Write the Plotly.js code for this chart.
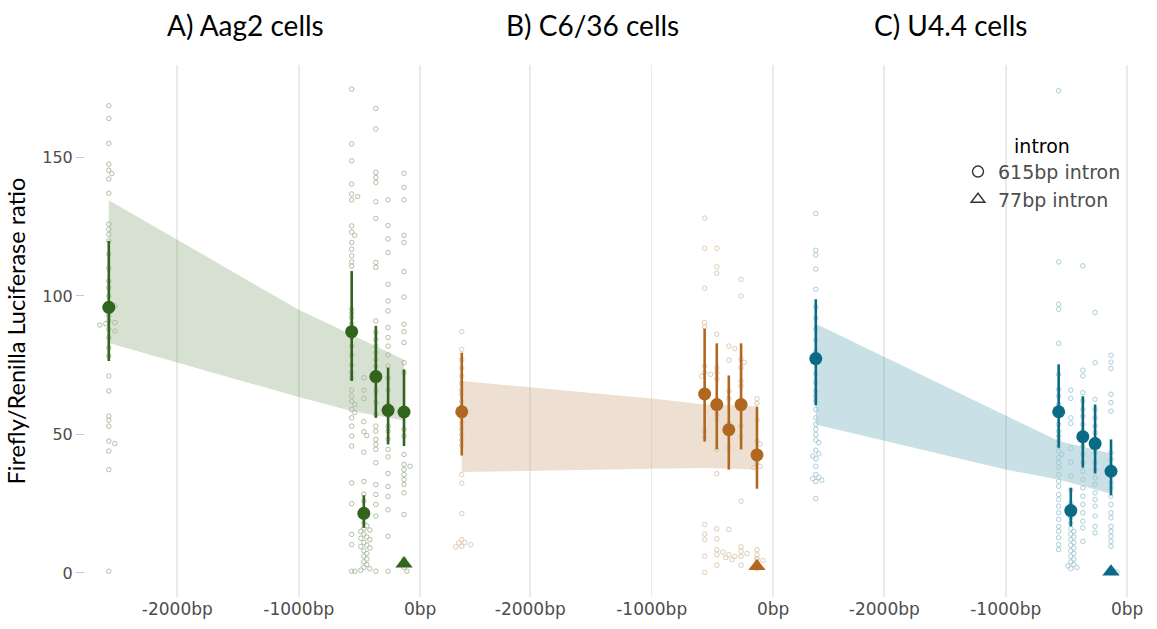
<!DOCTYPE html>
<html>
<head>
<meta charset="utf-8">
<script src="https://cdn.plot.ly/plotly-3.0.1.min.js"></script>
<style>body{margin:0;padding:0;background:#fff;}#chart{width:1157px;height:629px;}</style>
</head>
<body>
<div id="chart"></div>
<script>
// ---------- data ----------
const panelTitles = ['A) Aag2 cells', 'B) C6/36 cells', 'C) U4.4 cells'];
const xTickVals = [-2000, -1000, 0];
const xTickText = ['-2000bp', '-1000bp', '0bp'];
const yTickVals = [0, 50, 100, 150];

// construct positions (bp upstream)
const positions = [-2564, -564, -464, -365, -264, -133];
const pos77 = -133;

// mean estimates and 95% CI (615bp intron)
const meanA = [95.9, 87.1, 21.5, 70.9, 58.7, 58.1];
const upA   = [119.9, 109.0, 28.0, 89.2, 74.1, 73.5];
const loA   = [76.5, 69.3, 16.3, 56.0, 46.4, 45.8];
const meanB = [58.2, 64.6, 60.8, 51.7, 60.8, 42.6];
const upB   = [79.5, 88.2, 82.9, 71.3, 82.9, 60.0];
const loB   = [42.4, 47.4, 44.6, 37.3, 44.6, 30.4];
const meanC = [77.4, 58.2, 22.5, 49.2, 46.7, 36.7];
const upC   = [98.8, 75.3, 30.7, 63.8, 60.8, 48.2];
const loC   = [60.5, 45.2, 16.8, 38.0, 35.9, 28.0];

// 77bp intron means
const tri77 = [3.3, 2.4, 0.4];

// regression ribbons
const ribbonX = [-2564, -1000, -564, -133];
const ribUpA = [134.6, 95.0, 86.0, 77.0];
const ribLoA = [83.0, 63.5, 58.5, 55.0];
const ribUpB = [69.3, 63.0, 60.8, 60.2];
const ribLoB = [36.4, 37.6, 37.9, 37.3];
const ribUpC = [90.0, 56.9, 47.6, 43.1];
const ribLoC = [53.6, 37.3, 33.7, 28.6];

// raw observations per construct (615bp intron)
const rawA = [
  [168.7,164.1,155.1,147.6,145.4,144.2,142.2,137.1,125.9,124.1,122.2,119.9,115.1,110,105.4,103,100,97.2,96.4,95.8,92.8,91,90.4,90,89.5,88,87.3,85,81.3,78.3,71.1,65.7,56.6,55.1,53,47.6,46.7,44,37.3,0.6],
  [174.7,154.9,148.8,140.4,136.8,135.9,134.7,125.3,123.1,121.9,119.3,116.9,114.5,112.3,110.8,95.2,93.7,92.2,90,86.8,85,81.9,78.6,75,72.3,70.5,66,63.9,62,60.8,59,57.9,56,53,49.4,45.8,32.5,25,13.9,10.2,0.6],
  [70.5,66,63,54.6,51,49.6,43.6,33,28.5,26,22,18,17,16,15.5,15,14,13,12.5,12,11,10,9.5,9,8,7,6,5,4,3,2,1.5,1,0.6],
  [167.7,160.3,144.6,142.8,141,134,128,112.1,110.3,91,86.8,84.3,81.9,79.5,77.1,74.7,65.7,61.5,57.2,53,51.2,48.2,46.4,44.6,39.8,31.9,28.3,24.7,20.5,0.6],
  [134.7,125.4,120.6,115.7,104.2,98.2,94.6,88.6,85,81.9,78.7,74.7,70.3,66,60.8,57,53,51.2,48.3,44.6,41.9,35.9,31.2,27.6,22.8,13.2,0.6],
  [144.3,139.2,134.7,121.9,119.3,108.8,99.6,89.8,87.1,83.2,75.9,72.3,51.8,49.4,42.8,39.2,38.5,37.3,35.5,33.7,31.9,28.9,21.1]
];
const rawB = [
  [87.1,80.7,77,74,71.1,68.4,66,64.5,62,60,58,56,54,52,50,48,46,35.5,32.4,21.4,12,10.8,10.2,9.6,9.4,11],
  [128.1,117.2,102.8,90.4,88.9,74.7,72.3,71.7,71,51.2,48.8,17.5,14,12,6,0.2],
  [117.2,110.5,108.2,86.2,74.1,72.3,70.1,57.2,55.5,44.6,35.8,15.9,12.3,8.4,7.5,6.6,2.8],
  [81.9,81,76.8,65.7,63,54.2,52,45.2,15.7,6.6,6,4.8,5.5],
  [106,100,77.1,76,74.1,69.3,67.5,53,49.2,25.9,9.4,7.8,7,6,2.8],
  [62.9,61.2,55.2,47.6,46.5,39.8,38.5,38,8.4,6.6,5.1,4.5]
];
const rawC = [
  [129.8,116.5,114.8,109.7,102.4,96,92,88,84,80,76,72,68.7,65.7,64,62,59,56,53.6,51.8,50,48,47,44.3,43,42.2,41.2,38.5,35.5,34.5,33.5,33,34,26.8],
  [174.1,112.3,97,95.2,82.9,71.7,66.3,63.9,60.8,57.8,53.6,51.2,49.4,47.6,45.8,44,42.8,41.6,39.8,38,35.5,33.1,31.3,28.3,26.5,24.1,21.7,19.3,16.8,15,12.7,10.2,8.4],
  [66,63,56,54,45,40,35,30,25,20,18,16,15,14,13,12,11,10,9,8,7,6,5,4,3,2.5,2,1.5],
  [110.9,73.2,71.1,65.1,62.1,59,56.6,53.6,51.2,48.2,45.8,42.8,39.8,36.7,33.7,30.7,27.7,24.7,21.7,18.7,16.3,11.4],
  [94,75.9,62.7,59,56,53,50.6,48.2,45.8,43.4,39.8,37.3,34.3,31.9,28.9,26.5,24.1,20.5,16.8,14.5],
  [78.6,76.1,73.8,64.5,61.5,58.4,43.4,41,38.5,35.5,32.5,30.7,27.7,24.7,21.7,19.9,16.8,15,13.2,11.4,9.6]
];
// raw observations 77bp intron
const raw77A = [0.6, 2, 3.5, 5];
const raw77B = [1.5, 3, 5];
const raw77C = [0.3, 1];

// ---------- styling ----------
const cols = [
  {mean:'#31641c', raw:'#a7b99b', rib:'rgba(95,135,75,0.25)'},
  {mean:'#b0671f', raw:'#dcc4aa', rib:'rgba(200,160,115,0.32)'},
  {mean:'#0b6a86', raw:'#9fc7d3', rib:'rgba(60,145,170,0.28)'}
];
const xRange = [-2760, 130];
const yRange = [-8.7, 183.4];
const W = 1157, H = 629, ML = 85, MR = 13, MT = 65, MB = 32;
const plotW = W - ML - MR, plotH = H - MT - MB;
const domains = [[0, 0.3314], [0.3333, 0.6647], [0.6676, 0.999]];
const pxPerBp = plotW * 0.3314 / (xRange[1] - xRange[0]);
const pxPerY = plotH / (yRange[1] - yRange[0]);

// deterministic beeswarm placement to avoid overlapping points
function swarm(x0, vals) {
  const d = 4.0, placed = [], xs = [], ys = [];
  const sorted = vals.slice().sort((a, b) => b - a);
  sorted.forEach(v => {
    let off = 0;
    for (let k = 0; k < 40; k++) {
      const cand = (k === 0) ? 0 : (k % 2 ? 1 : -1) * Math.ceil(k / 2) * d * 0.75;
      const ok = placed.every(p => Math.hypot(cand - p.o, (v - p.v) * pxPerY) >= d);
      if (ok) { off = cand; break; }
    }
    placed.push({o: off, v: v});
    xs.push(x0 + off / pxPerBp);
    ys.push(v);
  });
  return {x: xs, y: ys};
}

const panelData = [
  {mean: meanA, up: upA, lo: loA, ru: ribUpA, rl: ribLoA, raw: rawA, raw77: raw77A},
  {mean: meanB, up: upB, lo: loB, ru: ribUpB, rl: ribLoB, raw: rawB, raw77: raw77B},
  {mean: meanC, up: upC, lo: loC, ru: ribUpC, rl: ribLoC, raw: rawC, raw77: raw77C}
];

const traces = [];
panelData.forEach((p, i) => {
  const xa = i === 0 ? 'x' : 'x' + (i + 1);
  const c = cols[i];
  traces.push({
    x: ribbonX.concat(ribbonX.slice().reverse()),
    y: p.ru.concat(p.rl.slice().reverse()),
    xaxis: xa, yaxis: 'y', type: 'scatter', mode: 'lines',
    fill: 'toself', fillcolor: c.rib, line: {width: 0}, hoverinfo: 'skip', showlegend: false
  });
  let rx = [], ry = [];
  p.raw.forEach((vals, j) => {
    const s = swarm(positions[j], vals);
    rx = rx.concat(s.x); ry = ry.concat(s.y);
  });
  traces.push({
    x: rx, y: ry, xaxis: xa, yaxis: 'y', type: 'scatter', mode: 'markers',
    marker: {symbol: 'circle-open', size: 4.5, color: c.raw, line: {width: 0.9, color: c.raw}},
    showlegend: false, hoverinfo: 'skip'
  });
  const s77 = swarm(pos77, p.raw77);
  traces.push({
    x: s77.x, y: s77.y, xaxis: xa, yaxis: 'y', type: 'scatter', mode: 'markers',
    marker: {symbol: 'circle-open', size: 4.5, color: c.raw, line: {width: 0.9, color: c.raw}},
    showlegend: false, hoverinfo: 'skip'
  });
  traces.push({
    x: positions, y: p.mean, xaxis: xa, yaxis: 'y', type: 'scatter', mode: 'markers',
    marker: {symbol: 'circle', size: 13, color: c.mean},
    error_y: {type: 'data', symmetric: false,
      array: p.up.map((u, k) => u - p.mean[k]),
      arrayminus: p.lo.map((l, k) => p.mean[k] - l),
      thickness: 2.6, width: 0, color: c.mean},
    showlegend: false
  });
  traces.push({
    x: [pos77], y: [tri77[i]], xaxis: xa, yaxis: 'y', type: 'scatter', mode: 'markers',
    marker: {symbol: 'triangle-up', size: 15, color: c.mean},
    showlegend: false
  });
});

// legend entries
traces.push({x: [null], y: [null], type: 'scatter', mode: 'markers', name: '615bp intron',
  marker: {symbol: 'circle-open', size: 11, color: '#333', line: {width: 1.4, color: '#333'}}, showlegend: true});
traces.push({x: [null], y: [null], type: 'scatter', mode: 'markers', name: '77bp intron',
  marker: {symbol: 'triangle-up-open', size: 12, color: '#333', line: {width: 1.4, color: '#333'}}, showlegend: true});

function xAxis(i) {
  return {
    domain: domains[i], range: xRange, anchor: 'y',
    tickvals: xTickVals, ticktext: xTickText,
    showgrid: true, gridcolor: '#ebebeb', gridwidth: 1.6,
    zeroline: false, showline: false, ticks: '',
    tickfont: {family: 'DejaVu Sans', size: 17, color: '#4d4d4d'},
    fixedrange: true
  };
}

const tickX = [245, 592, 950];
const layout = {
  width: W, height: H,
  margin: {l: ML, r: MR, t: MT, b: MB},
  paper_bgcolor: '#ffffff', plot_bgcolor: '#ffffff',
  xaxis: xAxis(0), xaxis2: xAxis(1), xaxis3: xAxis(2),
  yaxis: {
    range: yRange, tickvals: yTickVals, showgrid: false, zeroline: false, showline: false,
    ticks: 'outside', ticklen: 8, tickcolor: '#c8c8c8', tickwidth: 1,
    tickfont: {family: 'DejaVu Sans', size: 16, color: '#4d4d4d'},
    title: {text: 'Firefly/Renilla Luciferase ratio', font: {family: 'Lato', size: 23.5, color: '#000'}, standoff: 10}
  },
  showlegend: true,
  legend: {
    x: (958 - ML) / plotW, y: (H - MB - 128) / plotH, xanchor: 'left', yanchor: 'top',
    bgcolor: 'rgba(0,0,0,0)', font: {family: 'DejaVu Sans', size: 19, color: '#4d4d4d'},
    title: {text: 'intron', side: 'top center', font: {family: 'DejaVu Sans', size: 19, color: '#000'}},
    tracegroupgap: 0, itemwidth: 30
  },
  annotations: panelTitles.map((t, i) => ({
    text: t, xref: 'paper', yref: 'paper',
    x: (tickX[i] - ML) / plotW, y: (H - MB - 25) / plotH,
    xanchor: 'center', yanchor: 'middle', showarrow: false,
    font: {family: 'Lato', size: 28, color: '#000'}
  }))
};

Plotly.newPlot('chart', traces, layout, {displayModeBar: false, staticPlot: true});
</script>
</body>
</html>
